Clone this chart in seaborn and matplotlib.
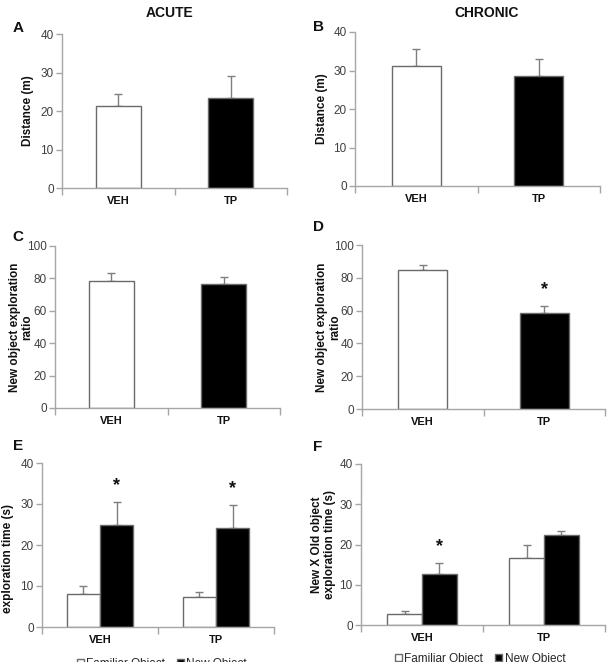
import matplotlib
matplotlib.use("Agg")
import matplotlib.pyplot as plt
import seaborn as sns
import pandas as pd

# ---------------- data ----------------
groups = ["VEH", "TP"]
objects = ["Familiar Object", "New Object"]

acute_distance = [21.3, 23.4]
acute_distance_err = [3.2, 5.7]
chronic_distance = [31.1, 28.6]
chronic_distance_err = [4.6, 4.5]

acute_ratio = [78.7, 76.5]
acute_ratio_err = [4.5, 4.3]
chronic_ratio = [84.6, 58.5]
chronic_ratio_err = [3.0, 4.1]
chronic_ratio_star = [False, True]

acute_familiar = [8.0, 7.3]
acute_familiar_err = [2.0, 1.2]
acute_new = [25.0, 24.2]
acute_new_err = [5.4, 5.5]
acute_star = [True, True]

chronic_familiar = [2.7, 16.7]
chronic_familiar_err = [0.7, 3.3]
chronic_new = [12.7, 22.4]
chronic_new_err = [2.6, 1.0]
chronic_star = [True, False]

# ---------------- style ----------------
sns.set_theme(style="white")
plt.rcParams["font.family"] = ["Liberation Sans", "DejaVu Sans"]

SPINE = "#a6a6a6"
ERR = "#7f7f7f"
TICKC = "#404040"
EDGE = "#6a6a6a"

W, H = 607, 662
fig = plt.figure(figsize=(W / 100, H / 100), dpi=100)


def add_ax(left, top, width, height):
    return fig.add_axes([left / W, 1 - (top + height) / H, width / W, height / H])


def style_axis(ax, ymax, step, ylabel, label_x, label_y=0.5):
    ax.set_xlim(-0.5, 1.5)
    ax.set_ylim(0, ymax)
    ax.set_yticks(range(0, ymax + 1, step))
    for s in ["top", "right"]:
        ax.spines[s].set_visible(False)
    for s in ["left", "bottom"]:
        ax.spines[s].set_color(SPINE)
        ax.spines[s].set_linewidth(1.0)
    ax.tick_params(axis="y", left=True, length=4, width=1, color=SPINE,
                   labelsize=8.5, labelcolor=TICKC, pad=2)
    ax.set_xticks([0, 1])
    ax.set_xticklabels(groups, fontweight="bold", fontsize=8)
    ax.set_xticks([-0.5, 0.5, 1.5], minor=True)
    ax.tick_params(axis="x", which="major", bottom=False, length=0, pad=6,
                   labelcolor="#111111")
    ax.tick_params(axis="x", which="minor", bottom=True, length=5, width=1,
                   color=SPINE)
    ax.set_xlabel("")
    ax.set_ylabel(ylabel, fontweight="bold", fontsize=8.5, color="#111111",
                  linespacing=1.1)
    ax.yaxis.label.set_va("center")
    ax.yaxis.set_label_coords(label_x, label_y)
    ax.grid(False)


def add_errors(ax, err_lists, star_lists=None):
    for i, (cont, errs) in enumerate(zip(ax.containers, err_lists)):
        for j, (bar, e) in enumerate(zip(cont, errs)):
            x = bar.get_x() + bar.get_width() / 2
            y = bar.get_height()
            ax.errorbar(x, y, yerr=[[0], [e]], fmt="none", ecolor=ERR,
                        elinewidth=1.0, capsize=3, capthick=1.0, zorder=1)
            if star_lists is not None and star_lists[i][j]:
                ax.annotate("*", (x, y + e), xytext=(0, 12),
                            textcoords="offset points", ha="center",
                            va="center", fontsize=13, fontweight="bold",
                            color="#111111")


def single_panel(ax, values, errs, ymax, step, ylabel, label_x, stars=None,
                 label_y=0.5):
    df = pd.DataFrame({"Group": groups, "Value": values})
    sns.barplot(data=df, x="Group", y="Value", hue="Group", hue_order=groups,
                palette=["white", "black"], width=0.4, edgecolor=EDGE,
                linewidth=1.0, errorbar=None, legend=False, ax=ax, zorder=2)
    err_lists = [[e] for e in errs]
    star_lists = [[s] for s in stars] if stars is not None else None
    add_errors(ax, err_lists, star_lists)
    style_axis(ax, ymax, step, ylabel, label_x, label_y)


def double_panel(ax, fam, fam_err, new, new_err, stars, ylabel, label_x,
                 label_y, leg_x, leg_y):
    df = pd.DataFrame({
        "Group": groups * 2,
        "Object": [objects[0]] * 2 + [objects[1]] * 2,
        "Value": fam + new,
    })
    sns.barplot(data=df, x="Group", y="Value", hue="Object", hue_order=objects,
                order=groups, palette=["white", "black"], width=0.57,
                edgecolor=EDGE, linewidth=1.0, errorbar=None, ax=ax,
                zorder=2)
    add_errors(ax, [fam_err, new_err], [[False, False], stars])
    style_axis(ax, 40, 10, ylabel, label_x, label_y)
    handles, labels = ax.get_legend_handles_labels()
    ax.legend(handles, labels, loc="center", bbox_to_anchor=(leg_x, leg_y),
              ncol=2, frameon=False, fontsize=8.5, handlelength=0.6,
              handleheight=0.6, handletextpad=0.2, columnspacing=1.0,
              borderaxespad=0)


axA = add_ax(62, 34, 225, 154)
single_panel(axA, acute_distance, acute_distance_err, 40, 10,
             "Distance (m)", -0.151)
axB = add_ax(355, 32, 245, 154)
single_panel(axB, chronic_distance, chronic_distance_err, 40, 10,
             "Distance (m)", -0.135)

axC = add_ax(55, 246, 225, 162)
single_panel(axC, acute_ratio, acute_ratio_err, 100, 20,
             "New object exploration\nratio", -0.15)
axD = add_ax(362, 245, 243, 164)
single_panel(axD, chronic_ratio, chronic_ratio_err, 100, 20,
             "New object exploration\nratio", -0.138, stars=chronic_ratio_star)

axE = add_ax(42, 463, 232, 164)
double_panel(axE, acute_familiar, acute_familiar_err, acute_new,
             acute_new_err, acute_star,
             "New X Old object\nexploration time (s)", -0.175, 0.415,
             0.517, -0.225)
axF = add_ax(361, 464, 244, 161)
double_panel(axF, chronic_familiar, chronic_familiar_err, chronic_new,
             chronic_new_err, chronic_star,
             "New X Old object\nexploration time (s)", -0.155, 0.5,
             0.488, -0.21)

# titles and panel letters
fig.text(170 / W, 1 - 13 / H, "ACUTE", ha="center", va="center",
         fontsize=10, fontweight="bold", color="#111111")
fig.text(487 / W, 1 - 13 / H, "CHRONIC", ha="center", va="center",
         fontsize=10, fontweight="bold", color="#111111")
for letter, (px, py) in {"A": (18, 28), "B": (318, 27), "C": (18, 237),
                         "D": (318, 227), "E": (18, 446),
                         "F": (318, 447)}.items():
    fig.text(px / W, 1 - py / H, letter, ha="center", va="center",
             fontsize=11, fontweight="bold", color="#111111")

fig.savefig("out.png", dpi=100, facecolor="white")
